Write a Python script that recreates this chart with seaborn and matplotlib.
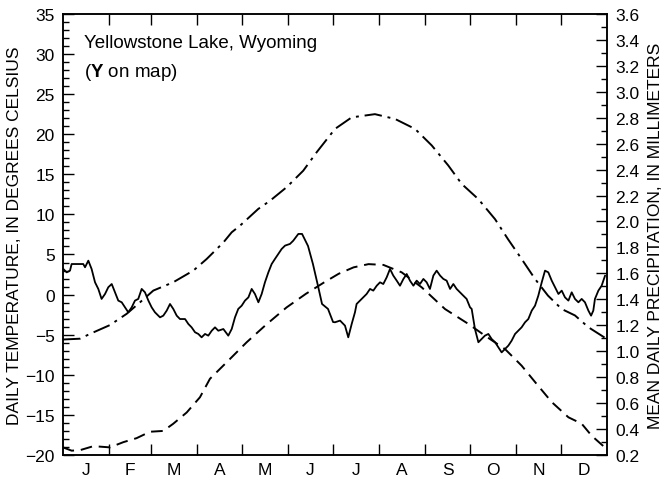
import numpy as np
import pandas as pd
import matplotlib
matplotlib.use("Agg")
import matplotlib.pyplot as plt
from matplotlib.ticker import MultipleLocator, FixedLocator, NullFormatter
import seaborn as sns

# Mean daily precipitation (right axis), day of year vs mm
precip_day = [0.2, 2.5, 4.7, 5.8, 13.6, 14.8, 17.0, 19.2, 21.5, 23.7, 25.9, 28.2, 30.4, 32.7, 34.9,
              37.1, 39.4, 41.6, 43.8, 46.1, 48.3, 50.5, 52.8, 55.0, 57.3, 59.5, 61.7, 65.1, 67.3,
              69.6, 71.8, 74.0, 76.3, 78.5, 81.9, 84.1, 86.3, 88.6, 90.8, 93.0, 95.3, 97.5, 99.8,
              102.0, 104.2, 107.6, 110.9, 113.2, 115.4, 117.6, 119.9, 122.1, 124.4, 126.6, 128.8,
              131.1, 133.3, 135.5, 137.8, 140.0, 142.2, 144.5, 146.7, 149.0, 152.3, 154.5, 157.9,
              160.4, 164.4, 167.7, 171.1, 173.8, 177.8, 181.2, 182.5, 185.9, 189.2, 191.4, 193.7,
              195.9, 197.0, 200.4, 203.7, 206.0, 208.2, 210.5, 212.7, 214.9, 217.2, 219.4, 221.6,
              223.9, 226.1, 228.4, 230.6, 232.8, 235.1, 237.3, 239.5, 241.8, 244.0, 246.2, 248.5,
              250.7, 253.0, 255.2, 257.4, 259.7, 261.9, 264.1, 266.4, 268.6, 270.8, 273.1, 274.2,
              276.4, 278.7, 280.9, 283.1, 285.4, 287.6, 289.9, 292.1, 294.3, 296.6, 298.8, 301.0,
              303.3, 305.5, 307.7, 310.0, 312.2, 314.5, 316.7, 318.9, 321.2, 323.4, 325.6, 327.9,
              330.1, 332.4, 334.6, 336.8, 339.1, 341.3, 343.5, 345.8, 348.0, 350.2, 352.5, 354.3,
              355.8, 356.9, 359.2, 361.4, 363.7]
precip_mm = [1.634, 1.608, 1.621, 1.672, 1.672, 1.647, 1.698, 1.634, 1.531, 1.480, 1.403, 1.441, 1.493,
             1.518, 1.454, 1.390, 1.377, 1.338, 1.300, 1.338, 1.390, 1.403, 1.480, 1.454, 1.390, 1.338,
             1.300, 1.261, 1.274, 1.313, 1.364, 1.326, 1.274, 1.248, 1.248, 1.210, 1.184, 1.146, 1.133,
             1.107, 1.133, 1.120, 1.158, 1.184, 1.158, 1.171, 1.120, 1.171, 1.261, 1.326, 1.351, 1.390,
             1.415, 1.480, 1.441, 1.377, 1.441, 1.531, 1.608, 1.672, 1.711, 1.750, 1.788, 1.814, 1.827,
             1.852, 1.904, 1.904, 1.811, 1.672, 1.503, 1.364, 1.326, 1.225, 1.223, 1.236, 1.197, 1.107,
             1.210, 1.300, 1.364, 1.403, 1.441, 1.480, 1.467, 1.505, 1.531, 1.518, 1.570, 1.634, 1.583,
             1.544, 1.505, 1.557, 1.595, 1.544, 1.505, 1.544, 1.518, 1.557, 1.531, 1.480, 1.583, 1.621,
             1.583, 1.557, 1.544, 1.480, 1.518, 1.480, 1.454, 1.428, 1.403, 1.338, 1.326, 1.171, 1.069,
             1.094, 1.120, 1.133, 1.094, 1.069, 1.030, 0.991, 1.017, 1.043, 1.081, 1.133, 1.158, 1.184,
             1.223, 1.248, 1.313, 1.351, 1.428, 1.531, 1.621, 1.608, 1.544, 1.493, 1.441, 1.467, 1.415,
             1.390, 1.454, 1.403, 1.377, 1.403, 1.377, 1.313, 1.274, 1.313, 1.403, 1.467, 1.505, 1.583]

# Daily maximum temperature (dash-dot, left axis)
tmax_day = [0, 11.4, 18.1, 31.5, 42.7, 51.7, 60.6, 74.0, 87.5, 96.4, 107.6, 113.2, 118.8, 131.0,
            138.9, 150.1, 161.2, 170.2, 182.5, 193.7, 209.3, 222.8, 236.2, 247.4, 258.5, 267.5,
            278.7, 289.9, 298.6, 307.7, 316.7, 325.4, 334.6, 343.5, 352.5, 365]
tmax_c = [-5.6, -5.5, -4.9, -3.8, -2.4, -0.96, 0.5, 1.54, 3.0, 4.44, 6.5, 7.77, 8.6, 10.68,
          11.7, 13.4, 15.45, 17.75, 20.66, 22.1, 22.5, 21.9, 20.66, 18.6, 16.1, 13.8,
          11.9, 9.4, 6.9, 4.44, 1.95, -0.13, -1.8, -2.6, -4.07, -5.55]

# Daily minimum temperature (dashed, left axis)
tmin_day = [0, 5.8, 11.4, 20.4, 31.5, 40.5, 49.4, 58.4, 67.3, 74.0, 83.0, 91.9, 98.6, 109.8,
            123.2, 136.0, 150.0, 163.0, 175.0, 185.0, 195.0, 205.0, 215.0, 227.2, 240.7, 256.3,
            272.0, 283.1, 296.6, 307.7, 316.7, 327.9, 339.1, 348.0, 354.7, 365]
tmin_c = [-19.05, -19.46, -19.4, -18.9, -19.05, -18.4, -17.9, -17.1, -17.0, -16.1, -14.7, -12.8,
          -10.5, -8.44, -5.95, -3.8, -1.6, 0.1, 1.5, 2.6, 3.4, 3.8, 3.7, 2.78, 0.9, -1.8, -3.66,
          -5.12, -6.8, -8.86, -10.9, -13.4, -15.3, -16.1, -17.6, -19.3]

months = ["J", "F", "M", "A", "M", "J", "J", "A", "S", "O", "N", "D"]
month_days = [31, 28, 31, 30, 31, 30, 31, 31, 30, 31, 30, 31]

sns.set_style("ticks")
plt.rcParams["font.family"] = ["Liberation Sans", "DejaVu Sans"]
plt.rcParams["mathtext.fontset"] = "custom"
plt.rcParams["mathtext.rm"] = "Liberation Sans"
plt.rcParams["mathtext.bf"] = "Liberation Sans:bold"
for k in ["text.color", "axes.labelcolor", "xtick.color", "ytick.color", "axes.edgecolor"]:
    plt.rcParams[k] = "black"

fig = plt.figure(figsize=(6.7, 4.81), dpi=100)
ax = fig.add_axes([0.094, 0.052, 0.812, 0.917])
ax2 = ax.twinx()

df_max = pd.DataFrame({"day": tmax_day, "temp": tmax_c})
df_min = pd.DataFrame({"day": tmin_day, "temp": tmin_c})
df_p = pd.DataFrame({"day": precip_day, "precip": precip_mm})

sns.lineplot(data=df_max, x="day", y="temp", ax=ax, color="black", lw=1.4, sort=False,
             estimator=None)
ax.lines[-1].set_dashes([9, 3, 1.5, 3])
sns.lineplot(data=df_min, x="day", y="temp", ax=ax, color="black", lw=1.4, sort=False,
             estimator=None)
ax.lines[-1].set_dashes([6, 3.5])
sns.lineplot(data=df_p, x="day", y="precip", ax=ax2, color="black", lw=1.3, sort=False,
             estimator=None)

ax.set_xlim(0, 365)
ax.set_ylim(-20, 35)
ax2.set_ylim(0.2, 3.6)

bounds = np.cumsum([0] + month_days)
mids = (bounds[:-1] + bounds[1:]) / 2
ax.xaxis.set_major_locator(FixedLocator(bounds[1:-1]))
ax.xaxis.set_major_formatter(NullFormatter())
ax.set_xticks(mids, minor=True)
ax.set_xticklabels(months, minor=True)
ax.tick_params(axis="x", which="major", direction="in", length=8, width=1, top=True, bottom=True)
ax.tick_params(axis="x", which="minor", length=0, labelsize=12.5, pad=5)

ax.yaxis.set_major_locator(MultipleLocator(5))
ax.yaxis.set_minor_locator(MultipleLocator(1))
ax.tick_params(axis="y", which="major", direction="in", length=8, width=1, labelsize=12.5, pad=6)
ax.tick_params(axis="y", which="minor", direction="in", length=4, width=1)

ax2.yaxis.set_major_locator(MultipleLocator(0.2))
ax2.yaxis.set_minor_locator(MultipleLocator(0.1))
ax2.yaxis.set_major_formatter(matplotlib.ticker.FormatStrFormatter("%.1f"))
ax2.tick_params(axis="y", which="major", direction="in", length=8, width=1, labelsize=12.5, pad=6)
ax2.tick_params(axis="y", which="minor", direction="in", length=4, width=1)

ax.set_xlabel("")
ax.set_ylabel("DAILY TEMPERATURE, IN DEGREES CELSIUS", fontsize=12.5, labelpad=2)
ax2.set_ylabel("MEAN DAILY PRECIPITATION, IN MILLIMETERS", fontsize=12.5, labelpad=6)

for a in (ax, ax2):
    for s in a.spines.values():
        s.set_linewidth(1.1)

ax.text(0.038, 0.935, "Yellowstone Lake, Wyoming", transform=ax.transAxes, fontsize=13.5,
        va="center", ha="left")
ax.text(0.038, 0.87, r"($\mathbf{Y}$ on map)", transform=ax.transAxes, fontsize=13.5,
        va="center", ha="left")

fig.savefig("out.png", dpi=100)
